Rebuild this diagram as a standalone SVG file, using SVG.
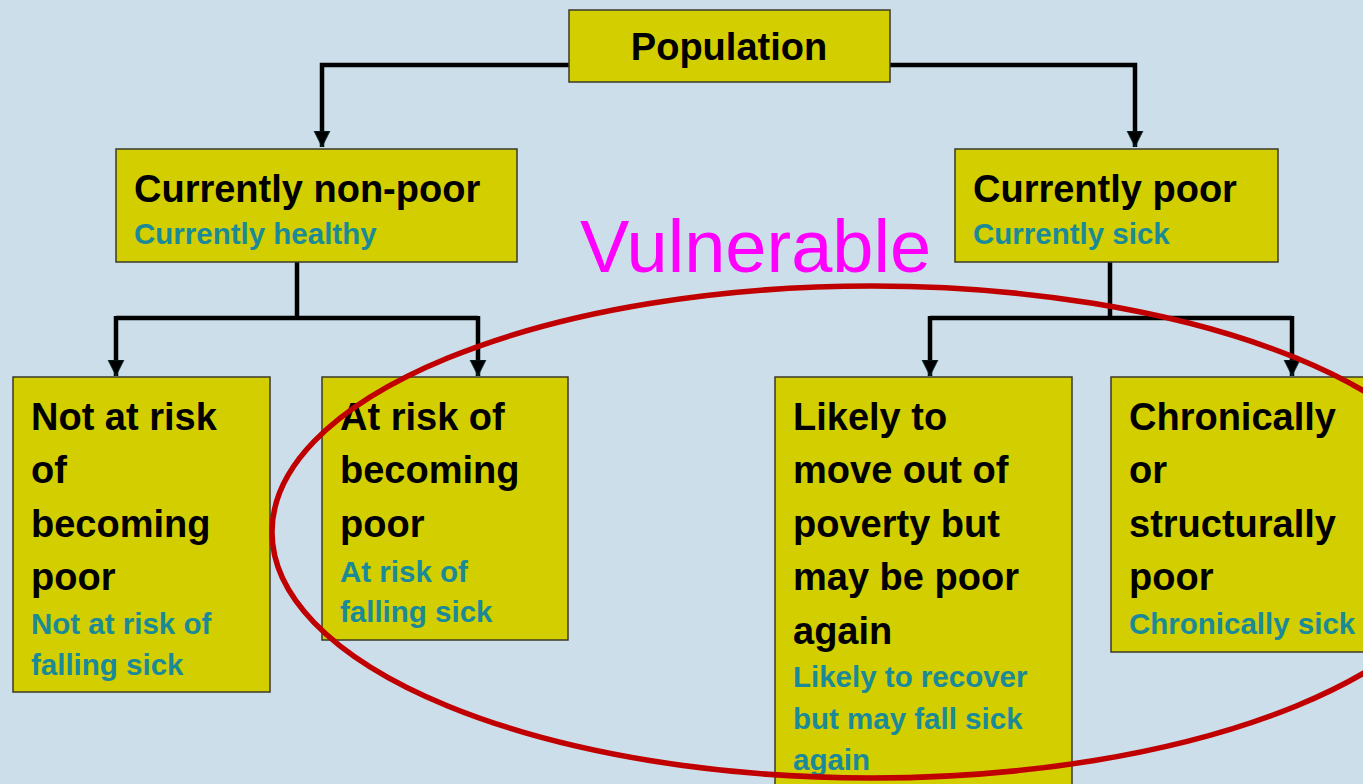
<svg xmlns="http://www.w3.org/2000/svg" width="1363" height="784" viewBox="0 0 1363 784">
<style>
.box{fill:#D3CE00;stroke:#3a3a2a;stroke-width:1.5}
.t{font-family:"Liberation Sans",Arial,sans-serif;font-weight:bold;font-size:38px;fill:#000}
.s{font-family:"Liberation Sans",Arial,sans-serif;font-weight:bold;font-size:29.5px;fill:#1A8A98}
.c{fill:none;stroke:#000;stroke-width:4.5;stroke-linejoin:miter}
</style>
<defs>
<marker id="ah" markerUnits="userSpaceOnUse" markerWidth="18" markerHeight="18" refX="16" refY="9" orient="auto" viewBox="0 0 18 18">
<path d="M0,1 L16,9 L0,17 Z" fill="#000" stroke="#0b3a3a" stroke-width="0.8"/>
</marker>
</defs>
<rect width="1363" height="784" fill="#CCDEE9"/>
<g id="connectors">
<path class="c" d="M569,65 L322,65 L322,147" marker-end="url(#ah)"/>
<path class="c" d="M890,65 L1135,65 L1135,147" marker-end="url(#ah)"/>
<path class="c" d="M297,262 L297,318"/>
<path class="c" d="M116,318 L478,318"/>
<path class="c" d="M116,316 L116,376" marker-end="url(#ah)"/>
<path class="c" d="M478,316 L478,376" marker-end="url(#ah)"/>
<path class="c" d="M1110,262 L1110,318"/>
<path class="c" d="M930,318 L1292,318"/>
<path class="c" d="M930,316 L930,376" marker-end="url(#ah)"/>
<path class="c" d="M1292,316 L1292,376" marker-end="url(#ah)"/>
</g>
<g id="population">
<rect class="box" x="569" y="10" width="321" height="72"/>
<text class="t" x="729" y="60" text-anchor="middle">Population</text>
</g>
<g id="nonpoor">
<rect class="box" x="116" y="149" width="401" height="113"/>
<text class="t" x="134" y="202">Currently non-poor</text>
<text class="s" x="134" y="244">Currently healthy</text>
</g>
<g id="poor">
<rect class="box" x="955" y="149" width="323" height="113"/>
<text class="t" x="973" y="202">Currently poor</text>
<text class="s" x="973" y="244">Currently sick</text>
</g>
<g id="notatrisk">
<rect class="box" x="13" y="377" width="257" height="315"/>
<text class="t" x="31" y="430">Not at risk</text>
<text class="t" x="31" y="483">of</text>
<text class="t" x="31" y="537">becoming</text>
<text class="t" x="31" y="590">poor</text>
<text class="s" x="31" y="634">Not at risk of</text>
<text class="s" x="31" y="675">falling sick</text>
</g>
<g id="atrisk">
<rect class="box" x="322" y="377" width="246" height="263"/>
<text class="t" x="340" y="430">At risk of</text>
<text class="t" x="340" y="483">becoming</text>
<text class="t" x="340" y="537">poor</text>
<text class="s" x="340" y="582">At risk of</text>
<text class="s" x="340" y="622">falling sick</text>
</g>
<g id="likely">
<rect class="box" x="775" y="377" width="297" height="420"/>
<text class="t" x="793" y="430">Likely to</text>
<text class="t" x="793" y="483">move out of</text>
<text class="t" x="793" y="537">poverty but</text>
<text class="t" x="793" y="590">may be poor</text>
<text class="t" x="793" y="644">again</text>
<text class="s" x="793" y="687">Likely to recover</text>
<text class="s" x="793" y="729">but may fall sick</text>
<text class="s" x="793" y="770">again</text>
</g>
<g id="chronic">
<rect class="box" x="1111" y="377" width="262" height="275"/>
<text class="t" x="1129" y="430">Chronically</text>
<text class="t" x="1129" y="483">or</text>
<text class="t" x="1129" y="537">structurally</text>
<text class="t" x="1129" y="590">poor</text>
<text class="s" x="1129" y="634">Chronically sick</text>
</g>
<g id="vulnerable">
<ellipse cx="872" cy="532" rx="600" ry="246" fill="none" stroke="#C00000" stroke-width="5.5"/>
<text x="580" y="272" font-family="Liberation Sans, Arial, sans-serif" font-size="74" fill="#FF00FF">Vulnerable</text>
</g>
</svg>
